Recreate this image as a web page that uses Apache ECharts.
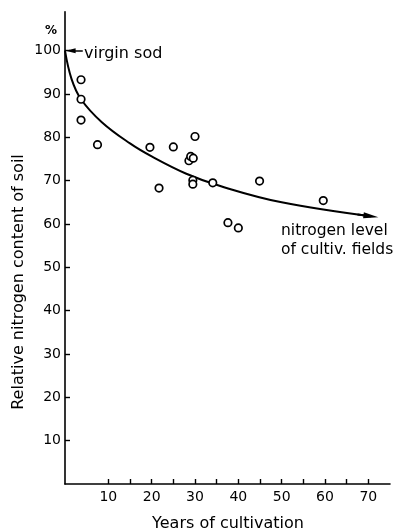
<!DOCTYPE html>
<html>
<head>
<meta charset="utf-8">
<script src="https://cdn.jsdelivr.net/npm/echarts@6/dist/echarts.min.js"></script>
<style>
  html, body { margin: 0; padding: 0; background: #fff; }
  #chart { width: 402px; height: 532px; }
</style>
</head>
<body>
<div id="chart"></div>
<script>
// Field samples: years under cultivation vs. relative nitrogen content (%)
const sampleYears    = [3.7, 3.7, 3.7, 7.5, 19.6, 25.0, 30.0, 21.7, 28.6, 29.0, 29.6, 29.5, 29.5, 34.1, 44.9, 59.6, 37.6, 40.0];
const sampleNitrogen = [93.3, 88.8, 84.0, 78.3, 77.7, 77.8, 80.2, 68.3, 74.6, 75.6, 75.2, 70.1, 69.2, 69.5, 69.9, 65.4, 60.3, 59.1];

// Fitted decline curve from virgin sod towards the level of cultivated fields
const curveYears    = [0, 1.5, 3.7, 8.5, 15, 20, 28, 36, 50, 70.6];
const curveNitrogen = [100, 93.5, 88.8, 83.5, 78.6, 75.6, 71.6, 68.7, 65.0, 61.8];

// Axis ticks and labels
const xTickValues  = [10, 15, 20, 25, 30, 35, 40, 45, 50, 55, 60, 65, 70];
const xLabelValues = [10, 20, 30, 40, 50, 60, 70];
const yTickValues  = [10, 20, 30, 40, 50, 60, 70, 80, 90, 100];

const FONT = 'DejaVu Sans';
const INK = '#000';

const chart = echarts.init(document.getElementById('chart'), null, { renderer: 'canvas' });

const samples = sampleYears.map((x, i) => [x, sampleNitrogen[i]]);
const curve = curveYears.map((x, i) => [x, curveNitrogen[i]]);

chart.setOption({
  animation: false,
  backgroundColor: '#fff',
  grid: { left: 65, right: 12, top: 11.7, bottom: 48, containLabel: false, outerBoundsMode: 'none' },
  xAxis: {
    type: 'value',
    min: 0,
    max: 75,
    axisLine: { show: true, onZero: false, lineStyle: { color: INK, width: 1.6 } },
    axisTick: { show: true, inside: true, length: 5, customValues: xTickValues, lineStyle: { color: INK, width: 1.4 } },
    axisLabel: { customValues: xLabelValues, margin: 6, fontSize: 14, fontFamily: FONT, color: INK },
    splitLine: { show: false }
  },
  yAxis: {
    type: 'value',
    min: 0,
    max: 109,
    axisLine: { show: true, onZero: false, lineStyle: { color: INK, width: 1.6 } },
    axisTick: { show: true, inside: true, length: 5, customValues: yTickValues, lineStyle: { color: INK, width: 1.4 } },
    axisLabel: { customValues: yTickValues, margin: 4, fontSize: 14, fontFamily: FONT, color: INK },
    splitLine: { show: false }
  },
  series: [
    {
      type: 'line',
      data: curve,
      smooth: 0.4,
      showSymbol: false,
      lineStyle: { color: INK, width: 2 },
      z: 2,
      markLine: {
        silent: true,
        label: { show: false },
        lineStyle: { color: INK, width: 2, type: 'solid' },
        emphasis: { disabled: true },
        data: [
          [
            { coord: [67.5, 62.2], symbol: 'none' },
            { coord: [70.6, 61.8], symbol: 'triangle', symbolSize: [6, 15] }
          ],
          [
            { coord: [4.1, 100], symbol: 'none', lineStyle: { width: 1.5 } },
            { coord: [1.3, 100], symbol: 'triangle', symbolSize: [5, 10], lineStyle: { width: 1.5 } }
          ]
        ]
      }
    },
    {
      type: 'scatter',
      data: samples,
      symbol: 'circle',
      symbolSize: 7.5,
      itemStyle: { color: '#fff', borderColor: INK, borderWidth: 1.7, opacity: 1 },
      z: 3
    }
  ],
  graphic: [
    {
      type: 'text', x: 51, y: 31,
      style: { text: '%', font: 'bold 12px "' + FONT + '"', fill: INK, textAlign: 'center', textVerticalAlign: 'middle' }
    },
    {
      type: 'text', x: 84, y: 54,
      style: { text: 'virgin sod', font: '16px "' + FONT + '"', fill: INK, textAlign: 'left', textVerticalAlign: 'middle' }
    },
    {
      type: 'text', x: 281, y: 240,
      style: { text: 'nitrogen level\nof cultiv. fields', font: '15.5px "' + FONT + '"', lineHeight: 19, fill: INK, textAlign: 'left', textVerticalAlign: 'middle' }
    },
    {
      type: 'text', x: 19, y: 282, rotation: Math.PI / 2,
      style: { text: 'Relative nitrogen content of soil', font: '16px "' + FONT + '"', fill: INK, textAlign: 'center', textVerticalAlign: 'middle' }
    },
    {
      type: 'text', x: 228, y: 524,
      style: { text: 'Years of cultivation', font: '16px "' + FONT + '"', fill: INK, textAlign: 'center', textVerticalAlign: 'middle' }
    }
  ]
});
</script>
</body>
</html>
